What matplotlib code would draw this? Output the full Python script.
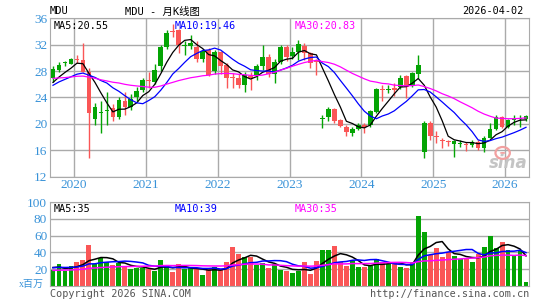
import matplotlib
matplotlib.use("Agg")
import matplotlib.pyplot as plt
import matplotlib.patches as patches
import numpy as np
import pandas as pd

# monthly candles, Sep 2019 .. Apr 2026
months = pd.period_range("2019-09", "2026-04", freq="M")
opens = [26.9, 28.2, 29.2, 29.1, 29.8, 29.7, 27.9, 20.7, 21.7, 22.0,
         22.4, 21.1, 23.5, 22.6, 24.0, 25.1, 26.7, 26.4, 28.7, 31.7,
         34.1, 34.2, 31.8, 31.8, 31.6, 29.8, 31.2, 28.0, 30.9, 28.9,
         27.1, 26.9, 25.9, 27.2, 27.3, 28.7, 30.2, 27.6, 29.4, 31.7,
         30.3, 30.9, 31.8, 30.7, 29.6, 20.8, 21.1, 22.3, 20.6, 19.6,
         18.6, 19.3, 19.9, 19.8, 21.8, 25.3, 25.2, 25.4, 25.6, 27.2,
         25.9, 27.5, 15.8, 20.2, 18.15, 17.5, 17.4, 16.9, 17.0, 17.0,
         16.8, 17.3, 16.3, 17.9, 19.3, 21.0, 19.6, 20.65, 20.8, 20.75]
highs = [28.8, 29.4, 29.5, 30.0, 30.4, 32.3, 28.4, 23.2, 23.4, 24.9,
         23.0, 24.0, 24.9, 24.5, 25.6, 27.0, 27.9, 29.0, 31.9, 34.2,
         35.2, 34.4, 32.6, 33.5, 32.6, 31.3, 31.5, 31.2, 31.0, 29.3,
         27.7, 27.5, 27.8, 27.9, 29.0, 32.0, 30.6, 29.8, 32.0, 31.9,
         31.6, 32.7, 32.2, 30.9, 29.9, 21.3, 22.6, 22.4, 20.8, 19.8,
         19.6, 20.1, 20.1, 22.1, 25.5, 25.9, 25.9, 26.2, 27.4, 27.4,
         27.9, 30.5, 20.4, 20.4, 18.9, 17.9, 17.6, 17.6, 17.6, 17.3,
         17.6, 17.5, 18.1, 20.1, 21.4, 21.2, 20.8, 21.4, 21.4, 21.4]
lows = [26.4, 27.9, 28.7, 29.0, 29.2, 27.8, 14.9, 19.9, 18.6, 19.8,
        20.5, 20.7, 21.3, 22.1, 23.5, 24.9, 25.4, 26.0, 28.0, 31.4,
        33.1, 30.7, 30.5, 31.4, 29.4, 29.4, 27.2, 27.6, 27.5, 25.4,
        25.4, 25.5, 24.9, 25.2, 26.6, 28.2, 27.1, 26.2, 29.0, 29.6,
        29.9, 29.7, 29.7, 28.4, 27.4, 19.4, 20.5, 20.1, 19.5, 18.2,
        18.1, 19.1, 18.6, 19.6, 21.6, 23.4, 24.7, 24.2, 25.3, 23.9,
        25.6, 26.9, 14.9, 17.6, 17.1, 16.4, 16.6, 15.0, 16.5, 15.9,
        16.5, 16.1, 15.8, 17.8, 19.1, 19.4, 19.4, 19.9, 19.6, 20.5]
closes = [28.3, 28.9, 29.3, 29.8, 29.7, 27.9, 21.6, 22.5, 21.8, 22.1,
          21.1, 23.6, 22.6, 23.7, 25.0, 26.6, 26.5, 28.2, 31.7, 33.7,
          34.0, 32.0, 31.9, 32.3, 29.9, 31.0, 27.4, 30.9, 28.8, 26.9,
          26.9, 25.9, 27.4, 26.9, 28.7, 30.2, 27.5, 29.4, 31.7, 30.2,
          30.9, 32.1, 30.7, 29.2, 29.4, 20.9, 22.3, 20.4, 19.7, 18.7,
          19.2, 19.8, 19.6, 21.9, 25.3, 25.1, 25.3, 25.2, 27.0, 25.6,
          27.7, 28.9, 20.1, 18.1, 17.95, 17.35, 17.2, 17.4, 17.1, 16.85,
          17.3, 16.4, 17.9, 19.2, 21.0, 19.6, 20.6, 20.75, 20.9, 21.2]
volumes = [19, 25.5, 17.2, 23.1, 29, 31.4, 49, 26.3, 33.3, 28.2,
           24.3, 27.4, 22.7, 19.6, 21.2, 21.2, 19.6, 17.2, 31.4, 23.1,
           16, 25.5, 20, 21.6, 19.6, 12.5, 19.6, 22, 19.6, 29,
           45.9, 37.6, 34.9, 34.9, 24.3, 27.8, 20.8, 26.3, 18.4, 17.2,
           15.3, 18, 28.2, 13.7, 30.2, 43.1, 43.1, 47.8, 28.2, 23.1,
           29.4, 22, 22, 23.5, 32.1, 28.2, 26.3, 27.4, 22, 21.2,
           29, 84, 64.3, 36.8, 44.7, 34.9, 40, 36, 32.1, 32.1,
           29, 38, 45.9, 60, 45, 52, 43.1, 36.8, 43.1, 3.9]

# months before the visible range (Apr 2017 .. Aug 2019), only feed the moving averages
hist_close = [26.9, 27.8, 26.9, 26.6, 27.1, 26.4, 27.5, 28.8, 27.4,
              26.9, 27.0, 28.7, 28.1, 28.0, 29.2, 29.3, 28.9, 25.7, 25.1, 26.2, 23.8,
              25.4, 25.9, 25.8, 26.2, 24.8, 25.8, 26.6, 25.9]
hist_vol = [17, 15, 18, 16, 19, 14, 17, 16, 18, 15, 17, 19, 16, 14, 18,
            17, 15, 16, 18, 20, 21, 19, 22, 24, 21, 23, 25, 20, 22]

years = ["2020", "2021", "2022", "2023", "2024", "2025", "2026"]
ma_price_text = ["MA5:20.55", "MA10:19.46", "MA30:20.83"]
ma_vol_text = ["MA5:35", "MA10:39", "MA30:35"]

RED = "#fa5656"
GREEN = "#04a404"
BLUE_TXT = "#3892d8"
GRID = "#aaaaaa"
MONO = "DejaVu Sans Mono"
SERIF = "Liberation Serif"

o = np.array(opens); h = np.array(highs); l = np.array(lows); c = np.array(closes)
v = np.array(volumes)
n = len(months)
x = np.arange(n)
up = c >= o
cols = np.where(up, GREEN, RED)

close_all = pd.Series(hist_close + closes)
vol_all = pd.Series(hist_vol + volumes)
k = len(hist_close)
ma_p = {w: close_all.rolling(w).mean().values[k:] for w in (5, 10, 30)}
ma_v = {w: vol_all.rolling(w).mean().values[k:] for w in (5, 10, 30)}
ma_colors = {5: "black", 10: "#0000ff", 30: "#ff00ff"}

fig = plt.figure(figsize=(5.45, 3.0), dpi=100)
ax = fig.add_axes([50 / 545, 1 - 176.7 / 300, 479 / 545, 158.4 / 300])
axv = fig.add_axes([50 / 545, 1 - 285.7 / 300, 479 / 545, 83.4 / 300])

# price panel
body_lo = np.minimum(o, c)
body_h = np.maximum(np.abs(c - o), 0.15)
ax.vlines(x, l, h, colors=cols, lw=1.0, zorder=2)
ax.bar(x, body_h, bottom=body_lo, width=0.78, color=cols, linewidth=0, zorder=3)
for w in (5, 10, 30):
    ax.plot(x, ma_p[w], color=ma_colors[w], lw=0.9, zorder=4)

ax.set_xlim(-0.5, n - 0.5)
ax.set_ylim(12, 36)
ax.set_yticks(range(12, 37, 4))
ax.set_xticks([3.5 + 12 * j for j in range(len(years))])
ax.set_xticklabels(years)
ax.grid(True, color=GRID, lw=1.0, zorder=0)
ax.set_axisbelow(True)
ax.tick_params(length=0, labelsize=9.5, colors=BLUE_TXT, pad=2)
for lab in ax.get_xticklabels() + ax.get_yticklabels():
    lab.set_fontfamily(SERIF)
for s in ax.spines.values():
    s.set_color(GRID)

ax.text(0.008, 0.985, ma_price_text[0], transform=ax.transAxes, ha="left", va="top",
        fontsize=7.3, family=MONO, color="black")
ax.text(125 / 479, 0.985, ma_price_text[1], transform=ax.transAxes, ha="left", va="top",
        fontsize=7.3, family=MONO, color="#0000ff")
ax.text(245 / 479, 0.985, ma_price_text[2], transform=ax.transAxes, ha="left", va="top",
        fontsize=7.3, family=MONO, color="#ff00ff")

# sina watermark
ax.text(0.997, 0.03, "sina", transform=ax.transAxes, ha="right", va="bottom",
        fontsize=12, style="italic", weight="bold", color="#c4c4c4", zorder=1)
eye = patches.Ellipse((0.945, 0.15), 0.03, 0.075, transform=ax.transAxes,
                      facecolor="none", edgecolor="#f2a0a0", lw=1.6, zorder=1)
ax.add_patch(eye)
ax.add_patch(patches.Circle((0.945, 0.15), 0.006, transform=ax.transAxes,
                            facecolor="#f2a0a0", edgecolor="none", zorder=1))

# volume panel
axv.bar(x, v, width=0.82, color=cols, linewidth=0, zorder=2)
for w in (5, 10, 30):
    axv.plot(x, ma_v[w], color=ma_colors[w], lw=1.1, zorder=3)
axv.set_xlim(-0.5, n - 0.5)
axv.set_ylim(0, 100)
axv.set_yticks([20, 40, 60, 80, 100])
axv.set_xticks([])
axv.grid(True, axis="y", color=GRID, lw=1.0, zorder=0)
axv.set_axisbelow(True)
axv.tick_params(length=0, labelsize=9.5, colors=BLUE_TXT, pad=2)
for lab in axv.get_yticklabels():
    lab.set_fontfamily(SERIF)
for s in axv.spines.values():
    s.set_color(GRID)

axv.text(0.008, 0.975, ma_vol_text[0], transform=axv.transAxes, ha="left", va="top",
         fontsize=7.3, family=MONO, color="black")
axv.text(125 / 479, 0.975, ma_vol_text[1], transform=axv.transAxes, ha="left", va="top",
         fontsize=7.3, family=MONO, color="#0000ff")
axv.text(245 / 479, 0.975, ma_vol_text[2], transform=axv.transAxes, ha="left", va="top",
         fontsize=7.3, family=MONO, color="#ff00ff")

# header / footer texts
fig.text(50 / 545, 1 - 14.5 / 300, "MDU", fontsize=7.5, family=MONO, ha="left", va="baseline")
fig.text(162 / 545, 1 - 14.5 / 300, "MDU - 月K线图", fontsize=7.5,
         family=[MONO, "Noto Sans CJK SC"], ha="center", va="baseline")
fig.text(523 / 545, 1 - 14.5 / 300, "2026-04-02", fontsize=7.3, family=MONO,
         ha="right", va="baseline")
fig.text(44 / 545, 1 - 287 / 300, "x百万", fontsize=7.2, color=BLUE_TXT,
         family=[SERIF, "Noto Sans CJK SC"], ha="right", va="baseline")
fig.text(50 / 545, 1 - 297 / 300, "Copyright 2026 SINA.COM", fontsize=7.3, family=MONO,
         color="#555555", ha="left", va="baseline")
fig.text(529 / 545, 1 - 297 / 300, "http://finance.sina.com.cn", fontsize=7.3, family=MONO,
         color="#555555", ha="right", va="baseline")

fig.savefig("out.png", dpi=100, facecolor="white")
